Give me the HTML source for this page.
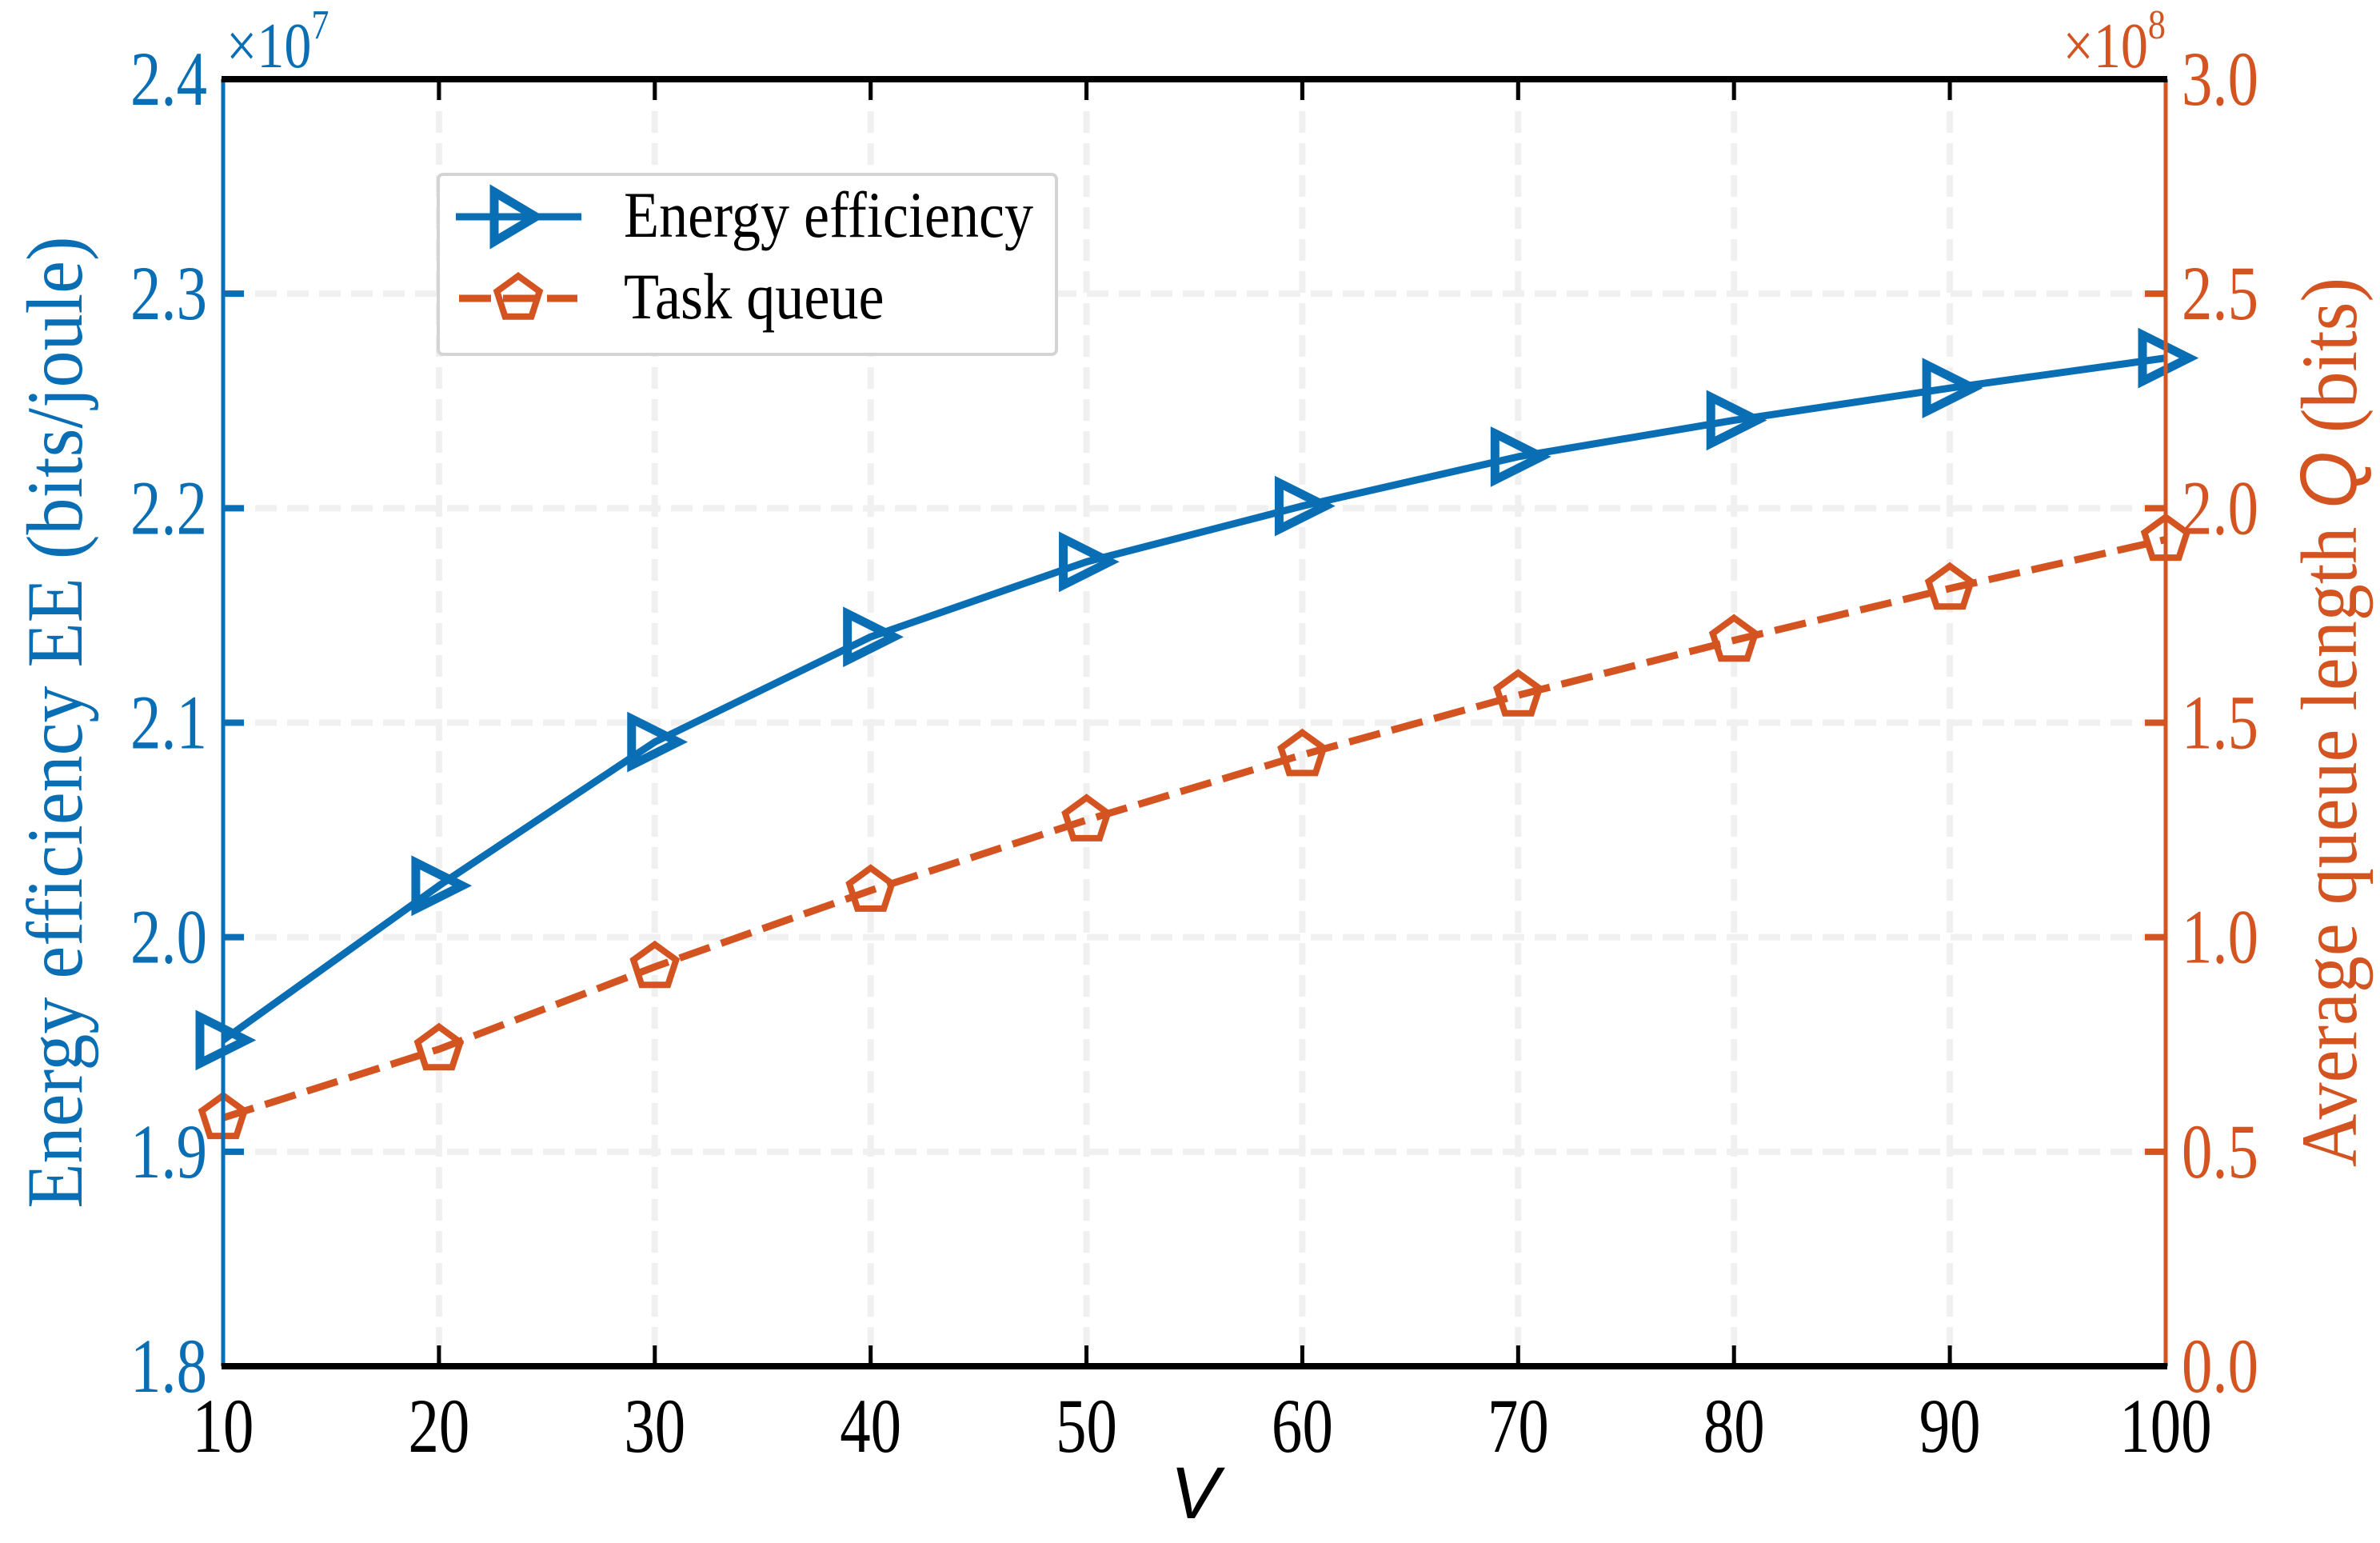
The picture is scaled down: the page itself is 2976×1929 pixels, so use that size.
<!DOCTYPE html>
<html><head><meta charset="utf-8"><style>
html,body{margin:0;padding:0;background:#fff}
svg{display:block}
text{font-family:"Liberation Serif",serif}
</style></head><body>
<svg id="chart" width="2976" height="1929" viewBox="0 0 2976 1929" xmlns="http://www.w3.org/2000/svg">
<g id="grid"></g>
<g id="series"></g>
<g id="axes"></g>
<text transform="translate(283,84) scale(0.85,1)" font-size="80" fill="#0a6eb4">×10<tspan font-size="52" dy="-36">7</tspan></text>
<text transform="translate(2708,84) scale(0.85,1)" text-anchor="end" font-size="80" fill="#d35420">×10<tspan font-size="52" dy="-36">8</tspan></text>
<text transform="translate(102,903) rotate(-90) scale(0.92,1)" text-anchor="middle" font-size="100" fill="#0a6eb4">Energy efficiency EE (bits/joule)</text>
<text transform="translate(2946,903) rotate(-90) scale(0.92,1)" text-anchor="middle" font-size="100" fill="#d35420">Average queue length <tspan font-style="italic" font-family="Liberation Sans, sans-serif">Q</tspan> (bits)</text>
<text x="1494" y="1898" text-anchor="middle" font-size="92" font-style="italic" style="font-family:'Liberation Sans',sans-serif">V</text>
<g>
<rect x="548" y="218" width="773" height="225" rx="6" fill="#fff" stroke="#d4d4d4" stroke-width="4"/>
<g>
<line x1="570" y1="271" x2="727" y2="271" stroke="#0a6eb4" stroke-width="9"/>
<polygon points="618,240 670,271 618,302" fill="none" stroke="#0a6eb4" stroke-width="11"/>
<text transform="translate(780,296) scale(0.88,1)" font-size="82" fill="#000">Energy efficiency</text>
</g>
<g>
<line x1="574" y1="373" x2="722" y2="373" stroke="#d35420" stroke-width="9" stroke-dasharray="40,15"/>
<polygon id="legpent" fill="none" stroke="#d35420" stroke-width="8"/>
<text transform="translate(780,398) scale(0.88,1)" font-size="82" fill="#000">Task queue</text>
</g>
</g>
</svg>
<script>
const xValues = [10,20,30,40,50,60,70,80,90,100];
const energyEfficiency = [1.952,2.024,2.091,2.140,2.175,2.201,2.224,2.241,2.256,2.270];
const taskQueue = [0.579,0.739,0.931,1.109,1.273,1.425,1.564,1.692,1.813,1.927];
const xTicks = [10,20,30,40,50,60,70,80,90,100];
const leftTicks = ["1.8","1.9","2.0","2.1","2.2","2.3","2.4"];
const rightTicks = ["0.0","0.5","1.0","1.5","2.0","2.5","3.0"];

const L=279,R=2708,T=99,B=1708;
const NS="http://www.w3.org/2000/svg";
const xs=v=>L+(v-10)/90*(R-L);
const yl=v=>B-(v-1.8)/0.6*(B-T);
const yr=v=>B-v/3.0*(B-T);
function mk(tag,attrs,parent){const e=document.createElementNS(NS,tag);for(const k in attrs)e.setAttribute(k,attrs[k]);parent.appendChild(e);return e;}
const grid=document.getElementById('grid'),axes=document.getElementById('axes'),series=document.getElementById('series');
function pent(cx,cy,r){let p=[];for(let i=0;i<5;i++){const a=-Math.PI/2+i*2*Math.PI/5;p.push((cx+r*Math.cos(a)).toFixed(1)+','+(cy+r*Math.sin(a)).toFixed(1));}return p.join(' ');}
document.getElementById('legpent').setAttribute('points',pent(648,373,28));
const TF=96, SX=0.8;

xTicks.forEach(v=>{
  const x=xs(v);
  if(v!==10&&v!==100){const g=mk('line',{x1:x,y1:T,x2:x,y2:B,stroke:'#f0f0f0','stroke-width':8,'stroke-dasharray':'27,13'},grid);
  
  }
  const t1=mk('line',{x1:x,y1:B,x2:x,y2:B-26,stroke:'#000','stroke-width':5},axes);
  
  
  const t2=mk('line',{x1:x,y1:T,x2:x,y2:T+26,stroke:'#000','stroke-width':5},axes);
  
  
  const lb=mk('text',{transform:`translate(${x},1815) scale(${SX},1)`,'text-anchor':'middle','font-size':TF,fill:'#000'},axes);
  lb.textContent=v;
  
  
});
leftTicks.forEach((s,i)=>{
  const y=yl(parseFloat(s));
  if(i>0&&i<leftTicks.length-1){const g=mk('line',{x1:L,y1:y,x2:R,y2:y,stroke:'#f0f0f0','stroke-width':8,'stroke-dasharray':'27,13'},grid);
  
  }
  const t=mk('line',{x1:L,y1:y,x2:L+26,y2:y,stroke:'#0a6eb4','stroke-width':8},axes);
  
  
  const lb=mk('text',{transform:`translate(${L-20},${y+32}) scale(${SX},1)`,'text-anchor':'end','font-size':TF,fill:'#0a6eb4'},axes);
  lb.textContent=s;
  
  
});
rightTicks.forEach(s=>{
  const y=yr(parseFloat(s));
  const t=mk('line',{x1:R,y1:y,x2:R-26,y2:y,stroke:'#d35420','stroke-width':8},axes);
  
  
  const lb=mk('text',{transform:`translate(${R+20},${y+32}) scale(${SX},1)`,'text-anchor':'start','font-size':TF,fill:'#d35420'},axes);
  lb.textContent=s;
  
  
});
const at=mk('line',{x1:L-2,y1:T,x2:R+2,y2:T,stroke:'#000','stroke-width':8},axes);


const ab=mk('line',{x1:L-2,y1:B,x2:R+2,y2:B,stroke:'#000','stroke-width':8},axes);


const al=mk('line',{x1:L,y1:T+4,x2:L,y2:B-4,stroke:'#0a6eb4','stroke-width':5},axes);


const ar=mk('line',{x1:R,y1:T+4,x2:R,y2:B-4,stroke:'#d35420','stroke-width':5},axes);



const qpts=xValues.map((v,i)=>xs(v)+','+yr(taskQueue[i])).join(' ');
const ql=mk('polyline',{points:qpts,fill:'none',stroke:'#d35420','stroke-width':9,'stroke-dasharray':'40,15'},series);


xValues.forEach((v,i)=>{
  const p=mk('polygon',{points:pent(xs(v),yr(taskQueue[i]),28),fill:'none',stroke:'#d35420','stroke-width':8},series);
  
  
});
const epts=xValues.map((v,i)=>xs(v)+','+yl(energyEfficiency[i])).join(' ');
const el=mk('polyline',{points:epts,fill:'none',stroke:'#0a6eb4','stroke-width':9,'stroke-linejoin':'round'},series);


xValues.forEach((v,i)=>{
  const x=xs(v),y=yl(energyEfficiency[i]);
  const p=mk('polygon',{points:`${x-29},${y-29} ${x+29},${y} ${x-29},${y+29}`,fill:'none',stroke:'#0a6eb4','stroke-width':11},series);
  
  
});
</script>
</body></html>
